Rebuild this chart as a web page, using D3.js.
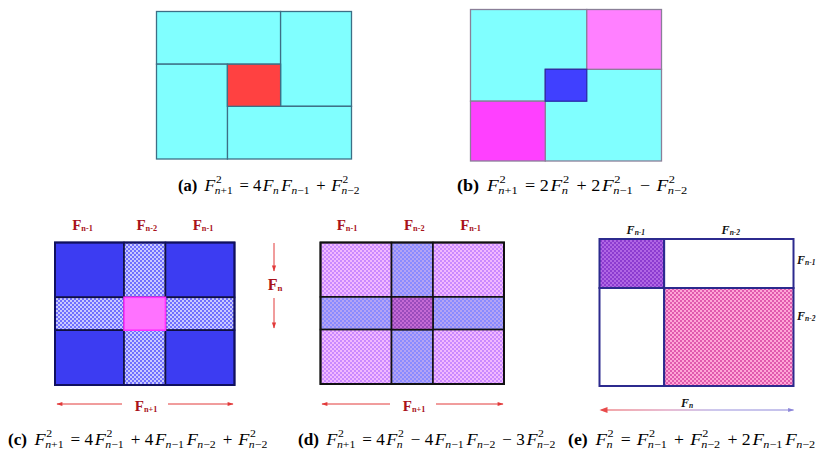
<!DOCTYPE html>
<html>
<head>
<meta charset="utf-8">
<script src="https://cdn.jsdelivr.net/npm/d3@7"></script>
<style>
  body { margin: 0; background: #fff; }
  svg { display: block; }
</style>
</head>
<body>
<div id="chart"></div>
<script>
// block sizes along each side, in Fibonacci-ish units
const colsA = [4, 3, 4], rowsA = [5, 4, 5];
const colsB = [9, 5, 9], rowsB = [15, 8, 15];
const colsC = [5, 3, 5], rowsC = [5, 3, 5];
const colsD = [12, 7, 12], rowsD = [5, 3, 5];
const colsE = [1, 2], rowsE = [1, 2];

const topLabels = ['n-1', 'n-2', 'n-1'];
const sideLabelsE = ['n-1', 'n-2'];

// caption tokens: strings are plain text, [sup, sub] is an F term
const capA = ['(a)', ' ', ['2', 'n+1'], ' = 4', ['', 'n'], ['', 'n−1'], ' + ', ['2', 'n−2']];
const capB = ['(b)', ' ', ['2', 'n+1'], ' = 2', ['2', 'n'], ' + 2', ['2', 'n−1'], ' − ', ['2', 'n−2']];
const capC = ['(c)', ' ', ['2', 'n+1'], ' = 4', ['2', 'n−1'], ' + 4', ['', 'n−1'], ['', 'n−2'], ' + ', ['2', 'n−2']];
const capD = ['(d)', ' ', ['2', 'n+1'], ' = 4', ['2', 'n'], ' − 4', ['', 'n−1'], ['', 'n−2'], ' − 3', ['2', 'n−2']];
const capE = ['(e)', ' ', ['2', 'n'], ' = ', ['2', 'n−1'], ' + ', ['2', 'n−2'], ' + 2', ['', 'n−1'], ['', 'n−2']];

const W = 821, H = 455;
const serif = 'Liberation Serif, Times New Roman, serif';
const red = '#a8121a';
const arrowRed = '#e23a3a';
var svg, defs;

function setup() {
  svg = d3.select('#chart').append('svg')
    .attr('width', W).attr('height', H);
  defs = svg.append('defs');
  checker('armC', '#c9c9ff', '#6f6fff');
  checker('cornD', '#f2b8ff', '#c98aff');
  checker('armD', '#b4a4f4', '#8a8aff');
  checker('midD', '#c46ad4', '#9a4cbc');
  checker('tlE', '#b066e4', '#8c3cd0');
  checker('brE', '#ffa6d6', '#e05aae');

  const g = defs.append('linearGradient').attr('id', 'arrE')
    .attr('gradientUnits', 'userSpaceOnUse')
    .attr('x1', 600).attr('x2', 793).attr('y1', 0).attr('y2', 0);
  g.append('stop').attr('offset', '0%').attr('stop-color', '#e84a4a');
  g.append('stop').attr('offset', '35%').attr('stop-color', '#d27aa8');
  g.append('stop').attr('offset', '60%').attr('stop-color', '#9a90dc');
  g.append('stop').attr('offset', '100%').attr('stop-color', '#8a84d8');

  ['r', 'e'].forEach(k => {
    const m = defs.append('marker').attr('id', 'head' + k)
      .attr('viewBox', '0 0 10 10').attr('refX', 9).attr('refY', 5)
      .attr('markerWidth', 8).attr('markerHeight', 6)
      .attr('markerUnits', 'userSpaceOnUse')
      .attr('orient', 'auto-start-reverse');
    m.append('path').attr('d', 'M0,1.5L10,5L0,8.5Z')
      .attr('fill', k == 'r' ? arrowRed : '#8a84d8');
  });
}

function checker(id, c1, c2) {
  const p = defs.append('pattern').attr('id', id)
    .attr('patternUnits', 'userSpaceOnUse').attr('width', 4).attr('height', 4);
  p.append('rect').attr('width', 4).attr('height', 4).attr('fill', c1);
  p.append('rect').attr('width', 2).attr('height', 2).attr('fill', c2);
  p.append('rect').attr('x', 2).attr('y', 2).attr('width', 2).attr('height', 2).attr('fill', c2);
}

// returns pixel edges for a panel from its unit sizes
function edges(sizes, range) {
  const s = d3.scaleLinear().domain([0, d3.sum(sizes)]).range(range);
  return [0, ...d3.cumsum(sizes)].map(s);
}

function blocks(parent, ex, ey, cells, stroke, sw) {
  parent.selectAll(null).data(cells).enter().append('rect')
    .attr('x', d => ex[d[0]]).attr('y', d => ey[d[2]])
    .attr('width', d => ex[d[1]] - ex[d[0]])
    .attr('height', d => ey[d[3]] - ey[d[2]])
    .attr('fill', d => d[4])
    .attr('stroke', d => d[5] || stroke)
    .attr('stroke-width', sw);
}

function drawA() {
  const ex = edges(colsA, [156.5, 351.5]), ey = edges(rowsA, [11.5, 159]);
  const g = svg.append('g');
  blocks(g, ex, ey, [
    [0, 2, 0, 1, '#80ffff'], [2, 3, 0, 2, '#80ffff'],
    [1, 3, 2, 3, '#80ffff'], [0, 1, 1, 3, '#80ffff'],
    [1, 2, 1, 2, '#ff4141']
  ], '#3d6f86', 1.3);
}

function drawB() {
  const ex = edges(colsB, [470.5, 661.5]), ey = edges(rowsB, [9.5, 161]);
  const g = svg.append('g');
  blocks(g, ex, ey, [
    [0, 2, 0, 2, '#80ffff'], [1, 3, 1, 3, '#80ffff'],
    [2, 3, 0, 1, '#ff80ff'], [0, 1, 2, 3, '#ff40ff'],
    [1, 2, 1, 2, '#4040ff', '#2a2aa8']
  ], '#8a7f98', 1.3);
}

function grid3(ex, ey, corner, arm, mid, midStroke, stroke, outer) {
  const g = svg.append('g');
  const cells = [];
  for (let i = 0; i < 3; i++) for (let j = 0; j < 3; j++) {
    let f = (i == 1 && j == 1) ? mid : (i == 1 || j == 1) ? arm : corner;
    if (i == 1 && j == 1) continue;
    cells.push([i, i + 1, j, j + 1, f]);
  }
  blocks(g, ex, ey, cells, stroke, 1.6);
  blocks(g, ex, ey, [[1, 2, 1, 2, mid, midStroke]], stroke, 1.6);
  g.append('rect').attr('x', ex[0]).attr('y', ey[0])
    .attr('width', ex[3] - ex[0]).attr('height', ey[3] - ey[0])
    .attr('fill', 'none').attr('stroke', outer).attr('stroke-width', 2);
}

function boldF(x, y, sub, anchor, size) {
  const t = svg.append('text').attr('x', x).attr('y', y)
    .attr('font-family', serif).attr('font-weight', 'bold')
    .attr('fill', red).attr('text-anchor', anchor || 'middle')
    .attr('font-size', size || 15);
  t.append('tspan').text('F');
  t.append('tspan').attr('font-size', (size || 15) * 0.55).attr('dy', 1).text(sub);
  return t;
}

function hArrows(x0, x1, xm, gap, y) {
  [[xm - gap, x0], [xm + gap, x1]].forEach(d => {
    svg.append('line').attr('x1', d[0]).attr('x2', d[1]).attr('y1', y).attr('y2', y)
      .attr('stroke', arrowRed).attr('stroke-width', 1).attr('marker-end', 'url(#headr)');
  });
}

function drawC() {
  const ex = edges(colsC, [55, 234.5]), ey = edges(rowsC, [242.5, 385]);
  grid3(ex, ey, '#3c3cf2', 'url(#armC)', '#ff72ff', '#ff30ff', '#101040', '#101060');
  const cx = [ex[0] + ex[1], ex[1] + ex[2], ex[2] + ex[3]].map(v => v / 2);
  topLabels.forEach((s, i) => boldF(cx[i] + [-7, 2, 3][i], 230, s));
  boldF(275, 290, 'n', 'middle', 16);
  [[271, 243], [298, 328]].forEach((d, i) => {
    svg.append('line').attr('x1', 274).attr('x2', 274)
      .attr('y1', i ? d[0] : d[1]).attr('y2', i ? d[1] : d[0])
      .attr('stroke', arrowRed).attr('stroke-width', 1).attr('marker-end', 'url(#headr)');
  });
  hArrows(57, 233, 145, 23, 404);
  boldF(146, 411, 'n+1');
}

function drawD() {
  const ex = edges(colsD, [320.5, 504]), ey = edges(rowsD, [242.5, 384]);
  grid3(ex, ey, 'url(#cornD)', 'url(#armD)', 'url(#midD)', '#111', '#111', '#111');
  const cx = [ex[0] + ex[1], ex[1] + ex[2], ex[2] + ex[3]].map(v => v / 2);
  topLabels.forEach((s, i) => boldF(cx[i] + [-9, 2, 2][i], 230, s));
  hArrows(322, 503, 413, 23, 404);
  boldF(414, 411, 'n+1');
}

function italicF(x, y, sub, anchor) {
  const t = svg.append('text').attr('x', x).attr('y', y)
    .attr('font-family', serif).attr('font-weight', 'bold').attr('font-style', 'italic')
    .attr('fill', '#111').attr('text-anchor', anchor || 'middle').attr('font-size', 12);
  t.append('tspan').text('F');
  t.append('tspan').attr('font-size', 7.5).attr('dy', 1).text(sub);
}

function drawE() {
  const ex = edges(colsE, [599.5, 793.5]), ey = edges(rowsE, [239, 386]);
  const g = svg.append('g');
  blocks(g, ex, ey, [
    [0, 1, 0, 1, 'url(#tlE)'], [1, 2, 0, 1, '#fff'],
    [0, 1, 1, 2, '#fff'], [1, 2, 1, 2, 'url(#brE)']
  ], '#2c2a8e', 2);
  italicF((ex[0] + ex[1]) / 2 + 4, 234, 'n-1');
  italicF((ex[1] + ex[2]) / 2 + 2, 234, 'n-2');
  sideLabelsE.forEach((s, i) => italicF(797, [264, 320][i], s, 'start'));
  svg.append('line').attr('x1', ex[0] + 2).attr('x2', ex[2]).attr('y1', 410).attr('y2', 410)
    .attr('stroke', 'url(#arrE)').attr('stroke-width', 1.2)
    .attr('marker-end', 'url(#heade)');
  svg.append('path').attr('d', `M${ex[0]},410l8,-3v6z`).attr('fill', '#e84a4a');
  italicF(687, 407, 'n');
}

// lays out a caption token by token; an F term is one text with its
// sup stacked over its sub. Then it is stretched to the picture's width
function caption(tokens, x, y, endX) {
  const g = svg.append('g').attr('font-family', serif).attr('fill', '#000');
  let cx = x;
  tokens.forEach((tk, i) => {
    if (typeof tk === 'string') {
      const t = g.append('text').attr('x', cx).attr('y', y).attr('font-size', 16)
        .style('white-space', 'pre')
        .attr('font-weight', i == 0 ? 'bold' : 'normal').text(tk);
      cx += t.node().getComputedTextLength() + 1.5;
    } else {
      const t = g.append('text').attr('y', y).attr('font-size', 17);
      const f = t.append('tspan').attr('x', cx).attr('font-style', 'italic').text('F');
      const fx = cx + f.node().getComputedTextLength() + 0.5;
      let w = 0;
      if (tk[0]) {
        const s = t.append('tspan').attr('x', fx).attr('y', y - 8)
          .attr('font-size', 11).text(tk[0]);
        w = s.node().getComputedTextLength();
      }
      const n = t.append('tspan').attr('x', fx - 1).attr('y', y + 3)
        .attr('font-size', 11).attr('font-style', 'italic').text(tk[1][0]);
      const r = t.append('tspan').attr('font-size', 11).text(tk[1].slice(1));
      const sw = n.node().getComputedTextLength() +
        (tk[1].length > 1 ? r.node().getComputedTextLength() : 0) - 1;
      cx = fx + Math.max(w, sw) + 2.5;
    }
  });
  const k = (endX - x) / (cx - x);
  g.attr('transform', `translate(${x},0) scale(${k},1) translate(${-x},0)`);
}

setup();
drawA();
drawB();
drawC();
drawD();
drawE();
caption(capA, 178, 191, 362);
caption(capB, 457, 191, 690);
caption(capC, 8, 445, 270);
caption(capD, 298, 445, 558);
caption(capE, 568, 445, 818);
</script>
</body>
</html>
